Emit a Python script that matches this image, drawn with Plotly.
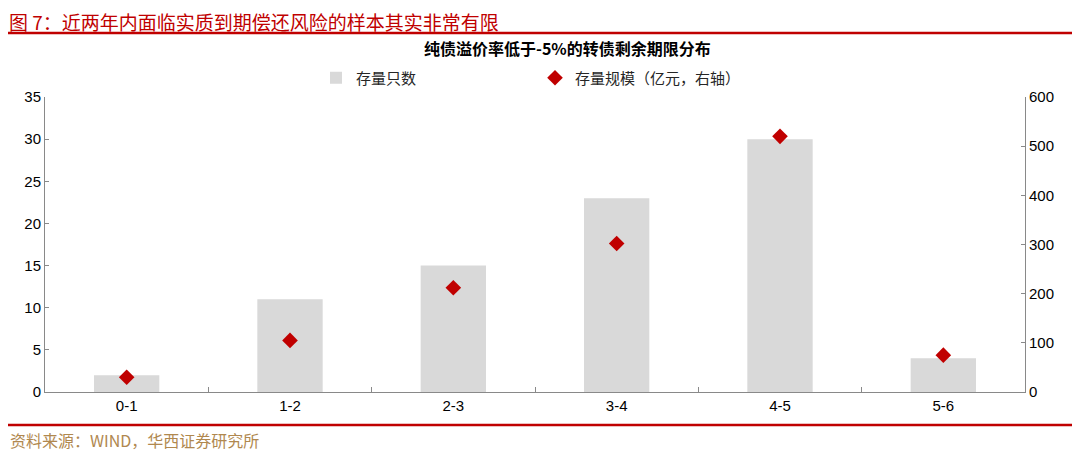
import plotly.graph_objects as go

# 剩余期限分布
terms = ["0-1", "1-2", "2-3", "3-4", "4-5", "5-6"]
counts = [2, 11, 15, 23, 30, 4]           # 存量只数
scale = [30, 105, 212, 302, 520, 75]      # 存量规模（亿元，右轴）

left_ticks = [0, 5, 10, 15, 20, 25, 30, 35]
right_ticks = [0, 100, 200, 300, 400, 500, 600]

RED = "#C00000"
CJK = "Noto Sans CJK SC"
NUM = "Liberation Sans, Arial"

# the page body adds an 8px margin, so the figure is drawn 8px smaller
OFF = 8
W, H = 1080 - OFF, 454 - OFF
L, R, T, B = 45 - OFF, 55, 97 - OFF, 62


def py(p):
    """reference pixel row -> paper y"""
    return (H - B - (p - OFF)) / (H - T - B)


def px(p):
    """reference pixel column -> paper x"""
    return ((p - OFF) - L) / (W - L - R)


fig = go.Figure()
fig.add_trace(go.Bar(
    name="存量只数", x=terms, y=counts, width=0.4,
    marker=dict(color="#D9D9D9", line=dict(width=0)),
))
fig.add_trace(go.Scatter(
    name="存量规模（亿元，右轴）", x=terms, y=scale, yaxis="y2", mode="markers",
    marker=dict(symbol="diamond", size=12, color=RED),
))

axis_line = dict(showline=True, linecolor="#898989", linewidth=1, showgrid=False,
                 zeroline=False, ticks="inside", ticklen=4, tickcolor="#898989",
                 automargin=False,
                 tickfont=dict(family=NUM, size=15, color="#000000"))

fig.update_layout(
    template="none",
    width=W, height=H,
    margin=dict(l=L, r=R, t=T, b=B),
    paper_bgcolor="white", plot_bgcolor="white",
    showlegend=True,
    legend=dict(orientation="h", xref="container", yref="container",
                x=(356 - OFF - 40) / W, y=1 - (78 - OFF) / H,
                xanchor="left", yanchor="middle",
                entrywidth=174, entrywidthmode="pixels", bgcolor="rgba(0,0,0,0)",
                font=dict(family=CJK, size=15, color="#262626")),
    xaxis=dict(axis_line, type="category", range=[-0.5, 5.5], tickson="boundaries",
               ticklen=5),
    yaxis=dict(axis_line, range=[0, 35], tickvals=left_ticks),
    yaxis2=dict(axis_line, range=[0, 600], tickvals=right_ticks, overlaying="y",
                side="right"),
)

fig.add_annotation(text="图 7：近两年内面临实质到期偿还风险的样本其实非常有限",
                   xref="paper", yref="paper", x=px(OFF), y=py(21), xanchor="left",
                   yanchor="middle", showarrow=False, borderpad=0,
                   font=dict(family=CJK, size=19, color=RED))
fig.add_annotation(text="<b>纯债溢价率低于-5%的转债剩余期限分布</b>",
                   xref="paper", yref="paper", x=px(567), y=py(48), xanchor="center",
                   yanchor="middle", showarrow=False,
                   font=dict(family=CJK, size=16, color="#000000"))
fig.add_annotation(text="资料来源：WIND，华西证券研究所",
                   xref="paper", yref="paper", x=px(OFF), y=py(440), xanchor="left",
                   yanchor="middle", showarrow=False,
                   font=dict(family=CJK, size=16, color="#B0884F"))

for row in (33, 425):
    fig.add_shape(type="line", xref="paper", yref="paper", x0=px(0), x1=px(1080),
                  y0=py(row), y1=py(row), line=dict(color=RED, width=2.5))

fig.write_html("out.html")
